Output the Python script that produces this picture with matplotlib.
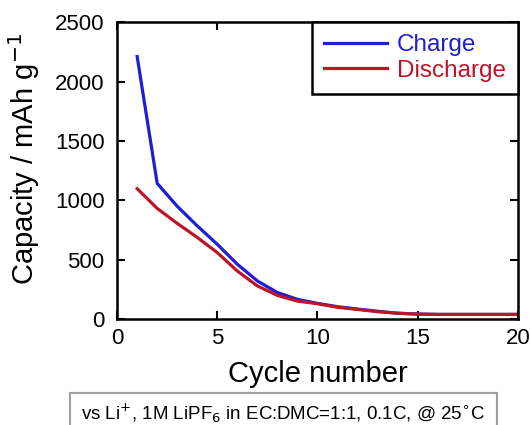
import numpy as np
import matplotlib.pyplot as plt
from matplotlib.patches import Rectangle

cycles = list(range(1, 21))
charge = [2210, 1143, 950, 785, 630, 462, 322, 224, 167, 133,
          105, 85, 67, 50, 43, 40, 40, 40, 40, 40]
discharge = [1098, 932, 806, 688, 560, 405, 280, 200, 152, 130,
             100, 82, 63, 50, 43, 40, 40, 40, 40, 40]
xticks = [0, 5, 10, 15, 20]
yticks = [0, 500, 1000, 1500, 2000, 2500]

plt.rcParams['font.family'] = ['Liberation Sans', 'DejaVu Sans']

fig = plt.figure(figsize=(5.3, 4.25), dpi=100)
ax = fig.add_axes([0.221, 0.249, 0.756, 0.699])

ax.plot(cycles, charge, color='#1e1ed2', lw=2.3, label='Charge')
ax.plot(cycles, discharge, color='#be1428', lw=2.3, label='Discharge')

ax.set_xlim(0, 20)
ax.set_ylim(0, 2500)
ax.set_xticks(xticks)
ax.set_yticks(yticks)
ax.tick_params(direction='in', length=6, width=1.5, top=True, right=True,
               labelsize=16)
ax.tick_params(axis='x', pad=6)
ax.tick_params(axis='y', pad=9)
for s in ax.spines.values():
    s.set_linewidth(1.8)

ax.set_xlabel('Cycle number', fontsize=21, labelpad=8)
ax.set_ylabel('Capacity / mAh g$^{-1}$', fontsize=21)
ax.yaxis.set_label_coords(-0.187, 0.539)

leg = ax.legend(loc='upper right', fontsize=17.5, frameon=True, fancybox=False,
                edgecolor='black', framealpha=1, borderaxespad=0.0,
                handlelength=2.6, handletextpad=0.4, borderpad=0.5,
                labelspacing=0.15)
leg.get_frame().set_linewidth(1.8)
for txt, c in zip(leg.get_texts(), ['#1e1ed2', '#be1428']):
    txt.set_color(c)

# condition note in a grey box at the bottom
fig.patches.append(Rectangle((70 / 530, -0.02), 427 / 530, 32 / 425 + 0.02,
                             transform=fig.transFigure, fc='white',
                             ec='#a0a0a0', lw=1.5))
fig.text(0.534, 12 / 425, 'vs Li$^{+}$, 1M LiPF$_6$ in EC:DMC=1:1, 0.1C, @ 25$^{\\circ}$C',
         ha='center', va='center', fontsize=13.5)

fig.savefig('out.png', dpi=100)
